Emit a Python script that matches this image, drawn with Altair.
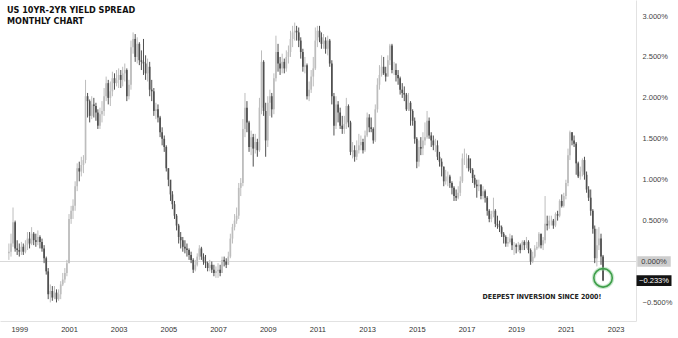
import altair as alt
import pandas as pd

# ---------------- data (monthly 10Y-2Y spread, %), Aug 1998 .. Jul 2022 ----------------
START_MONTH = "1998-08-01"
FIRST_OPEN = 0.10

CLOSE = [
    0.12, 0.22, 0.48, 0.16, 0.14,
    0.12, 0.18, 0.12, 0.20, 0.28, 0.22, 0.34, 0.26, 0.24, 0.30, 0.24, 0.16,
    0.04, -0.12, -0.40, -0.36, -0.44, -0.38, -0.46, -0.40, -0.28, -0.22, -0.14, -0.02,
    0.52, 0.62, 0.68, 0.92, 1.14, 1.10, 1.18, 1.24, 2.02, 1.96, 1.78, 1.92,
    1.90, 1.82, 1.66, 1.80, 1.84, 2.02, 2.18, 2.00, 2.08, 2.24, 2.18, 2.22,
    2.28, 2.22, 2.30, 2.34, 2.02, 2.16, 2.62, 2.72, 2.50, 2.66, 2.46, 2.44,
    2.42, 2.30, 2.38, 2.10, 2.08, 1.84, 1.86, 1.76, 1.58, 1.50, 1.40, 1.14,
    1.00, 0.82, 0.70, 0.56, 0.44, 0.30, 0.26, 0.18, 0.16, 0.14, 0.08, 0.02,
    -0.10, -0.04, 0.06, 0.16, 0.06, 0.00, -0.02, -0.08, -0.04, -0.10, -0.14, -0.12,
    -0.10, -0.14, 0.02, 0.00, -0.04, 0.06, 0.28, 0.42, 0.50, 0.56, 0.90, 0.96,
    1.62, 1.88, 1.70, 1.40, 1.52, 1.38, 1.46, 1.36, 1.88, 2.44, 1.84, 1.48,
    1.94, 2.02, 1.86, 2.24, 2.56, 2.42, 2.36, 2.44, 2.36, 2.50, 2.56, 2.72,
    2.80, 2.82, 2.80, 2.70, 2.56, 2.38, 2.40, 2.02, 2.10, 2.26, 2.36, 2.70,
    2.82, 2.74, 2.66, 2.70, 2.60, 2.70, 2.42, 2.02, 1.66, 1.92, 1.82, 1.66,
    1.62, 1.68, 1.90, 1.70, 1.34, 1.36, 1.28, 1.36, 1.42, 1.46, 1.36, 1.54,
    1.76, 1.64, 1.62, 1.48, 1.86, 2.16, 2.28, 2.38, 2.30, 2.26, 2.46, 2.64,
    2.34, 2.34, 2.28, 2.24, 2.10, 2.06, 2.04, 1.86, 1.94, 1.84, 1.72, 1.50,
    1.22, 1.40, 1.38, 1.48, 1.52, 1.72, 1.54, 1.48, 1.42, 1.42, 1.28, 1.22,
    1.16, 0.98, 1.04, 1.04, 0.96, 0.90, 0.80, 0.78, 0.84, 0.98, 1.26, 1.26,
    1.26, 1.14, 1.12, 1.02, 0.94, 0.92, 0.94, 0.80, 0.86, 0.78, 0.62, 0.52,
    0.58, 0.62, 0.46, 0.44, 0.42, 0.34, 0.30, 0.22, 0.24, 0.28, 0.20, 0.20,
    0.18, 0.20, 0.14, 0.24, 0.20, 0.24, 0.14, 0.00, 0.06, 0.16, 0.18, 0.34,
    0.20, 0.26, 0.46, 0.44, 0.50, 0.50, 0.44, 0.58, 0.56, 0.74, 0.68, 0.80,
    0.96, 1.30, 1.58, 1.48, 1.44, 1.20, 1.04, 1.10, 1.24, 1.06, 0.88, 0.78,
    0.62, 0.40, 0.04, 0.20, 0.28, 0.06, -0.233,
]

HIGH = [
    0.22, 0.34, 0.66, 0.50, 0.26,
    0.22, 0.24, 0.22, 0.26, 0.36, 0.36, 0.42, 0.36, 0.34, 0.38, 0.32, 0.28,
    0.20, 0.06, -0.08, -0.28, -0.30, -0.30, -0.34, -0.34, -0.24, -0.14, -0.08, 0.02,
    0.58, 0.68, 0.76, 0.98, 1.20, 1.22, 1.28, 1.30, 2.22, 2.06, 1.98, 2.02,
    2.00, 1.94, 1.86, 1.88, 1.96, 2.12, 2.26, 2.22, 2.20, 2.32, 2.30, 2.34,
    2.36, 2.34, 2.38, 2.42, 2.36, 2.22, 2.70, 2.80, 2.78, 2.74, 2.68, 2.58,
    2.72, 2.52, 2.48, 2.44, 2.22, 2.12, 1.94, 1.92, 1.78, 1.64, 1.54, 1.42,
    1.14, 0.98, 0.86, 0.74, 0.58, 0.46, 0.36, 0.30, 0.26, 0.22, 0.16, 0.12,
    0.04, 0.02, 0.10, 0.20, 0.18, 0.10, 0.08, 0.00, 0.02, 0.00, -0.04, -0.06,
    -0.02, -0.04, 0.06, 0.06, 0.04, 0.12, 0.34, 0.46, 0.58, 0.66, 0.96, 1.02,
    1.74, 2.06, 1.96, 1.72, 1.60, 1.56, 1.56, 1.50, 2.00, 2.58, 2.46, 1.94,
    2.02, 2.10, 2.06, 2.30, 2.76, 2.66, 2.50, 2.54, 2.48, 2.58, 2.64, 2.82,
    2.88, 2.92, 2.88, 2.86, 2.74, 2.60, 2.50, 2.42, 2.20, 2.34, 2.50, 2.86,
    2.88, 2.88, 2.80, 2.78, 2.74, 2.76, 2.72, 2.46, 2.06, 2.02, 1.96, 1.88,
    1.78, 1.78, 2.00, 1.92, 1.72, 1.46, 1.42, 1.48, 1.56, 1.54, 1.50, 1.60,
    1.82, 1.80, 1.76, 1.64, 1.92, 2.24, 2.40, 2.52, 2.50, 2.38, 2.52, 2.66,
    2.66, 2.44, 2.42, 2.34, 2.26, 2.18, 2.14, 2.06, 2.06, 1.96, 1.86, 1.76,
    1.52, 1.48, 1.52, 1.58, 1.70, 1.84, 1.76, 1.58, 1.54, 1.50, 1.48, 1.34,
    1.26, 1.16, 1.12, 1.10, 1.06, 0.98, 0.92, 0.88, 0.92, 1.04, 1.32, 1.38,
    1.32, 1.30, 1.26, 1.14, 1.06, 1.00, 1.00, 0.94, 0.92, 0.88, 0.80, 0.64,
    0.62, 0.78, 0.64, 0.56, 0.50, 0.44, 0.36, 0.32, 0.30, 0.34, 0.32, 0.24,
    0.22, 0.24, 0.22, 0.26, 0.26, 0.30, 0.26, 0.16, 0.12, 0.20, 0.24, 0.36,
    0.34, 0.30, 0.80, 0.56, 0.56, 0.56, 0.52, 0.60, 0.62, 0.76, 0.82, 0.84,
    1.00, 1.38, 1.60, 1.58, 1.54, 1.46, 1.22, 1.16, 1.26, 1.28, 1.10, 0.92,
    0.88, 0.64, 0.44, 0.40, 0.42, 0.34, 0.08,
]

LOW = [
    0.02, 0.06, 0.18, 0.12, 0.08,
    0.06, 0.08, 0.08, 0.10, 0.14, 0.16, 0.20, 0.20, 0.18, 0.20, 0.16, 0.12,
    -0.02, -0.16, -0.46, -0.50, -0.48, -0.46, -0.50, -0.48, -0.46, -0.30, -0.26, -0.18,
    -0.02, 0.46, 0.52, 0.62, 0.86, 0.98, 1.04, 1.08, 1.20, 1.76, 1.70, 1.74,
    1.76, 1.72, 1.62, 1.62, 1.70, 1.78, 1.96, 1.92, 1.90, 2.02, 2.10, 2.14,
    2.12, 2.12, 2.14, 2.20, 1.96, 1.98, 2.10, 2.54, 2.44, 2.42, 2.40, 2.34,
    2.28, 2.22, 2.20, 2.02, 1.96, 1.78, 1.74, 1.70, 1.52, 1.42, 1.34, 1.10,
    0.92, 0.74, 0.64, 0.52, 0.38, 0.22, 0.16, 0.12, 0.10, 0.06, 0.02, -0.02,
    -0.14, -0.12, -0.06, 0.02, 0.02, -0.04, -0.08, -0.12, -0.12, -0.14, -0.18, -0.20,
    -0.20, -0.18, -0.14, -0.06, -0.08, -0.04, 0.04, 0.22, 0.38, 0.46, 0.52, 0.80,
    0.92, 1.52, 1.58, 1.34, 1.30, 1.16, 1.32, 1.28, 1.34, 1.80, 1.78, 1.28,
    1.40, 1.78, 1.76, 1.80, 2.20, 2.32, 2.28, 2.30, 2.30, 2.32, 2.42, 2.50,
    2.62, 2.70, 2.70, 2.62, 2.48, 2.32, 2.30, 1.98, 1.96, 2.06, 2.14, 2.34,
    2.62, 2.68, 2.60, 2.60, 2.54, 2.52, 2.38, 1.92, 1.54, 1.62, 1.70, 1.62,
    1.56, 1.56, 1.62, 1.64, 1.30, 1.26, 1.22, 1.24, 1.32, 1.36, 1.32, 1.34,
    1.52, 1.58, 1.58, 1.44, 1.46, 1.82, 2.10, 2.26, 2.28, 2.20, 2.26, 2.40,
    2.30, 2.28, 2.20, 2.16, 2.04, 2.00, 1.96, 1.84, 1.84, 1.66, 1.66, 1.44,
    1.14, 1.16, 1.30, 1.30, 1.42, 1.50, 1.50, 1.40, 1.36, 1.34, 1.24, 1.16,
    1.04, 0.92, 0.94, 0.92, 0.90, 0.82, 0.74, 0.74, 0.76, 0.80, 0.96, 1.18,
    1.14, 1.10, 1.08, 0.96, 0.90, 0.78, 0.86, 0.76, 0.76, 0.72, 0.56, 0.48,
    0.48, 0.54, 0.42, 0.40, 0.36, 0.30, 0.22, 0.18, 0.18, 0.22, 0.14, 0.08,
    0.10, 0.12, 0.10, 0.14, 0.14, 0.16, 0.10, -0.04, -0.02, 0.04, 0.14, 0.16,
    0.16, 0.14, 0.22, 0.38, 0.40, 0.44, 0.40, 0.42, 0.50, 0.54, 0.66, 0.66,
    0.76, 0.92, 1.24, 1.42, 1.40, 1.06, 1.02, 1.00, 1.04, 1.00, 0.84, 0.74,
    0.56, 0.34, -0.02, -0.06, 0.14, -0.04, -0.24,
]

TITLE_LINES = ["US 10YR-2YR YIELD SPREAD", "MONTHLY CHART"]
NOTE = "DEEPEST INVERSION SINCE 2000!"
Y_TICKS = [-0.5, 0.5, 1.0, 1.5, 2.0, 2.5, 3.0]
X_TICK_YEARS = list(range(1999, 2024, 2))
LAST_VALUE = -0.233
CIRCLE_AT = ("2022-07-01T00:00:00", -0.20)

# ---------------- frame ----------------
dates = pd.date_range(START_MONTH, periods=len(CLOSE), freq="MS")
df = pd.DataFrame({
    "date": [d.strftime("%Y-%m-%dT00:00:00") for d in dates],
    "open": [FIRST_OPEN] + CLOSE[:-1],
    "high": HIGH,
    "low": LOW,
    "close": CLOSE,
})

W, H = 636, 321
LIGHT, DARK = "#bdbdbd", "#505050"
FONT = "Liberation Sans"
NARROW = "Liberation Sans Narrow, DejaVu Sans Condensed, Liberation Sans"

x_scale = alt.Scale(domain=[alt.DateTime(year=1998, month=6, date=5),
                            alt.DateTime(year=2023, month=8, date=16)])
x_axis = alt.Axis(values=[alt.DateTime(year=y, month=1, date=1) for y in X_TICK_YEARS],
                  format="%Y", ticks=False, grid=False, title=None,
                  labelFontSize=7.5, labelColor="#333333", labelFont=FONT,
                  labelPadding=4, domainColor="#e2e2e2", labelFlush=False)
y_scale = alt.Scale(domain=[-0.727, 3.196], nice=False, zero=False)
y_axis = alt.Axis(orient="right", values=Y_TICKS, ticks=False, grid=False, title=None,
                  labelExpr="replace(format(datum.value, '.3f'), '-', '\u2212') + '%'",
                  labelFontSize=7.5, labelColor="#444444", labelFont=FONT,
                  labelAlign="left", labelPadding=6, domainColor="#e2e2e2")

color = alt.condition("datum.close >= datum.open", alt.value(LIGHT), alt.value(DARK))
base = alt.Chart(df)

wicks = base.mark_rule(strokeWidth=1).encode(
    x=alt.X("date:T", scale=x_scale, axis=x_axis),
    y=alt.Y("low:Q", scale=y_scale, axis=y_axis),
    y2="high:Q",
    color=color,
)
bodies = base.mark_bar(size=1.7).encode(
    x=alt.X("date:T", scale=x_scale, axis=x_axis),
    y=alt.Y("open:Q", scale=y_scale, axis=y_axis),
    y2="close:Q",
    color=color,
)

zero_df = pd.DataFrame({"v": [0.0]})
zero_line = alt.Chart(zero_df).mark_rule(color="#d9d9d9", strokeWidth=1).encode(
    y=alt.Y("v:Q", scale=y_scale, axis=y_axis),
)

circ_df = pd.DataFrame({"date": [CIRCLE_AT[0]], "v": [CIRCLE_AT[1]]})
halo = alt.Chart(circ_df).mark_point(shape="circle", size=340, filled=False,
                                     stroke="#8fd19a", strokeWidth=4, opacity=0.45).encode(
    x=alt.X("date:T", scale=x_scale, axis=x_axis),
    y=alt.Y("v:Q", scale=y_scale, axis=y_axis),
)
circle = alt.Chart(circ_df).mark_point(shape="circle", size=340, filled=False,
                                       stroke="#3f9e4a", strokeWidth=1.6, opacity=1).encode(
    x=alt.X("date:T", scale=x_scale, axis=x_axis),
    y=alt.Y("v:Q", scale=y_scale, axis=y_axis),
)

title_df = pd.DataFrame({"t": ["\n".join(TITLE_LINES)]})
title = alt.Chart(title_df).mark_text(align="left", baseline="top", font=NARROW,
                                      fontWeight="bold", fontSize=9, lineHeight=10.5,
                                      lineBreak="\n", color="#111111").encode(
    x=alt.value(7), y=alt.value(6), text="t:N")

note_df = pd.DataFrame({"t": [NOTE]})
note = alt.Chart(note_df).mark_text(align="center", baseline="middle", font=NARROW,
                                    fontWeight="bold", fontSize=7, color="#222222").encode(
    x=alt.value(542), y=alt.value(297), text="t:N")

# price tags on the right axis
tags_df = pd.DataFrame({
    "v": [0.0, LAST_VALUE],
    "label": ["0.000%", "\u2212" + format(abs(LAST_VALUE), ".3f") + "%"],
    "bg": ["#cdcdcd", "#131313"],
    "fg": ["#3a3a3a", "#ffffff"],
    "w": [1, 2],
})
box_shape = "M-1,-0.31L1,-0.31L1,0.31L-1,0.31Z"
tag_boxes = alt.Chart(tags_df).mark_point(shape=box_shape, filled=True, opacity=1,
                                          strokeWidth=0).encode(
    x=alt.value(654),
    y=alt.Y("v:Q", scale=y_scale, axis=y_axis),
    size=alt.Size("w:Q", scale=alt.Scale(domain=[1, 2], range=[1120, 1225]), legend=None),
    fill=alt.Fill("bg:N", scale=None),
)
tag_text = alt.Chart(tags_df).mark_text(align="center", baseline="middle", fontSize=7.5,
                                        font=FONT).encode(
    x=alt.value(654),
    y=alt.Y("v:Q", scale=y_scale, axis=y_axis),
    text="label:N",
    color=alt.Color("fg:N", scale=None),
)

chart = alt.layer(zero_line, wicks, bodies, halo, circle, title, note, tag_boxes, tag_text).properties(
    width=W, height=H, autosize="none", background="white",
    padding={"left": 0, "top": 0, "right": 678 - W, "bottom": 338 - H},
).configure_view(stroke=None)

chart.save("out.html", embed_options={"renderer": "svg", "actions": False})
